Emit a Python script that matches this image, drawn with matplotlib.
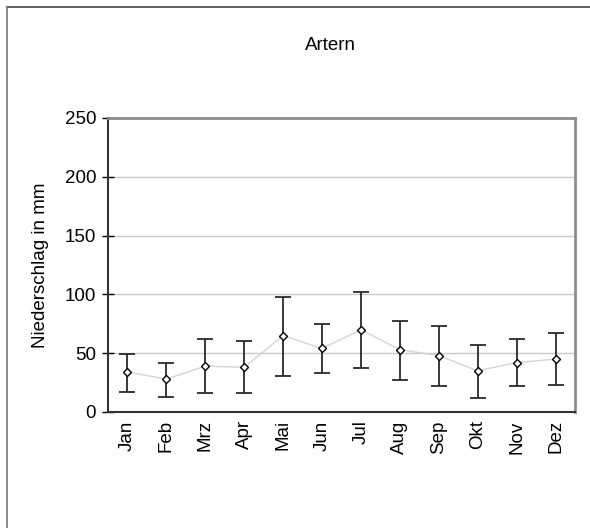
import matplotlib
matplotlib.use("Agg")
import matplotlib.pyplot as plt
from matplotlib.lines import Line2D
import numpy as np

plt.rcParams['font.family'] = ['Liberation Sans', 'DejaVu Sans']

months = ["Jan", "Feb", "Mrz", "Apr", "Mai", "Jun", "Jul", "Aug", "Sep", "Okt", "Nov", "Dez"]
mean = [34, 28, 39, 38, 65, 54, 70, 53, 48, 35, 42, 45]
upper = [49, 42, 62, 60, 98, 75, 102, 77, 73, 57, 62, 67]
lower = [17, 13, 16, 16, 31, 33, 37, 27, 22, 12, 22, 23]
yticks = [0, 50, 100, 150, 200, 250]

FS = 13.5
W, H = 590, 528
fig = plt.figure(figsize=(W / 100, H / 100), dpi=100)
ax = fig.add_axes([108 / W, (H - 412) / H, (575 - 108) / W, (412 - 118) / H])

x = np.arange(len(months))
mean_a = np.array(mean)
err = [mean_a - np.array(lower), np.array(upper) - mean_a]

ax.plot(x, mean, color='#d4d4d4', lw=1.0, zorder=2)
ax.errorbar(x, mean, yerr=err, fmt='none', ecolor='#2a2a2a', elinewidth=1.3,
            capsize=6, capthick=1.3, zorder=3)
ax.plot(x, mean, ls='none', marker='D', markersize=4.0, markerfacecolor='white',
        markeredgecolor='black', markeredgewidth=1.0, zorder=4)

ax.set_xlim(-0.5, len(months) - 0.5)
ax.set_ylim(0, 250)
ax.set_yticks(yticks)
ax.set_xticks(x)
ax.set_xticklabels(months, rotation=90, fontsize=FS)
ax.tick_params(axis='x', length=0, pad=6)
ax.tick_params(axis='y', direction='inout', length=9, width=1.0, labelsize=FS, pad=4)
ax.yaxis.grid(True, color='#c8c8c8', lw=1.0)
ax.set_axisbelow(True)

ax.spines['left'].set_color('#333333')
ax.spines['left'].set_linewidth(1.5)
ax.spines['bottom'].set_color('#333333')
ax.spines['bottom'].set_linewidth(1.5)
ax.spines['top'].set_color('#8c8c8c')
ax.spines['top'].set_linewidth(2.0)
ax.spines['right'].set_color('#8c8c8c')
ax.spines['right'].set_linewidth(2.0)

ax.set_ylabel("Niederschlag in mm", fontsize=FS, labelpad=11)
fig.text(330 / W, 1 - 46 / H, "Artern", ha='center', va='center', fontsize=FS)

# outer frame (top and left edges)
fig.add_artist(Line2D([6.5 / W, 1.0], [1 - 6.5 / H, 1 - 6.5 / H], color='#444444', lw=1.2,
                      transform=fig.transFigure))
fig.add_artist(Line2D([6.5 / W, 6.5 / W], [0, 1 - 6.5 / H], color='#777777', lw=1.2,
                      transform=fig.transFigure))

fig.savefig("out.png", dpi=100)
